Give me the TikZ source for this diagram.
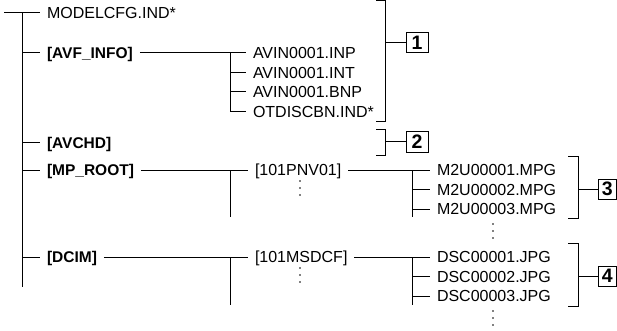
\documentclass[tikz,border=0pt]{standalone}
\usepackage{fontspec}
\setmainfont{Liberation Sans}
\begin{document}
\begin{tikzpicture}[x=1pt,y=-1pt, line width=1pt,
  f/.style={anchor=west, inner ysep=0pt, inner xsep=0pt, outer xsep=7pt,
    text height=11.5pt, text depth=0pt, font=\fontsize{16}{18}\selectfont},
  fb/.style={f, font=\fontsize{15.5}{18}\selectfont\bfseries},
  num/.style={draw, line width=1pt, minimum width=22pt, minimum height=20pt,
    inner sep=0pt, font=\fontsize{19.5}{20}\selectfont\bfseries},
  dotc/.style={fill=black}]
\useasboundingbox (0,0) rectangle (617,331);

% root level
\coordinate (start) at (4,13);
\coordinate (trunktop) at (22,13);
\coordinate (trunkbot) at (22,287);
\node[f] (modelcfg) at (40,13) {MODELCFG.IND*};
\node[fb] (avfinfo) at (40,53) {[AVF\_INFO]};
\node[fb] (avchd) at (40,143) {[AVCHD]};
\node[fb] (mproot) at (40,170) {[MP\_ROOT]};
\node[fb] (dcim) at (40,257) {[DCIM]};

\draw (start) -- (modelcfg.west);
\draw (trunktop) -- (trunkbot);
\foreach \n in {avfinfo,avchd,mproot,dcim}
  \draw (trunktop |- \n.west) -- (\n.west);

% AVF_INFO files
\node[f] (avin1) at (246,53) {AVIN0001.INP};
\node[f] (avin2) at (246,72.5) {AVIN0001.INT};
\node[f] (avin3) at (246,92) {AVIN0001.BNP};
\node[f] (otdisc) at (246,111.5) {OTDISCBN.IND*};
\coordinate (j1) at (230,53);
\draw (avfinfo.east) -- (avin1.west);
\draw (j1) |- (otdisc.west);
\draw (j1 |- avin2.west) -- (avin2.west);
\draw (j1 |- avin3.west) -- (avin3.west);

% MP_ROOT
\node[f] (pnv) at (248,170) {[101PNV01]};
\coordinate (j2) at (230,170);
\coordinate (j2b) at (230,217);
\draw (mproot.east) -- (pnv.west);
\draw (j2) -- (j2b);
\node[f] (m1) at (430,170) {M2U00001.MPG};
\node[f] (m2) at (430,189.5) {M2U00002.MPG};
\node[f] (m3) at (430,209) {M2U00003.MPG};
\coordinate (j3) at (412,170);
\coordinate (j3b) at (412,217);
\draw (pnv.east) -- (m1.west);
\draw (j3) -- (j3b);
\draw (j3 |- m2.west) -- (m2.west);
\draw (j3 |- m3.west) -- (m3.west);

% DCIM
\node[f] (msdcf) at (248,257) {[101MSDCF]};
\coordinate (j4) at (230,257);
\coordinate (j4b) at (230,305);
\draw (dcim.east) -- (msdcf.west);
\draw (j4) -- (j4b);
\node[f] (d1) at (430,257) {DSC00001.JPG};
\node[f] (d2) at (430,276.5) {DSC00002.JPG};
\node[f] (d3) at (430,296) {DSC00003.JPG};
\coordinate (j5) at (412,257);
\coordinate (j5b) at (412,305);
\draw (msdcf.east) -- (d1.west);
\draw (j5) -- (j5b);
\draw (j5 |- d2.west) -- (d2.west);
\draw (j5 |- d3.west) -- (d3.west);

% vertical ellipses
\foreach \x/\y in {300/181, 300/268, 493/224, 493/311}
  \foreach \k in {0,7,14}
    \fill[dotc] (\x,\y+\k) circle (0.95pt);

% brackets and numbers
\node[num] (n1) at (417,43) {1};
\node[num] (n2) at (417,142) {2};
\node[num, minimum width=18.5pt] (n3) at (607.25,189) {3};
\node[num, minimum width=18.5pt] (n4) at (607.25,276) {4};

\draw (376,1) -- (385,1) -- (385,122) -- (376,122);
\draw (385,43) coordinate (b1) -- (n1.west);
\draw (376,130) -- (385,130) -- (385,155) -- (376,155);
\draw (385,142) coordinate (b2) -- (n2.west);
\draw (568,156) -- (578,156) -- (578,218) -- (568,218);
\draw (578,189) coordinate (b3) -- (n3.west);
\draw (568,243) -- (578,243) -- (578,306) -- (568,306);
\draw (578,276) coordinate (b4) -- (n4.west);
\end{tikzpicture}
\end{document}
